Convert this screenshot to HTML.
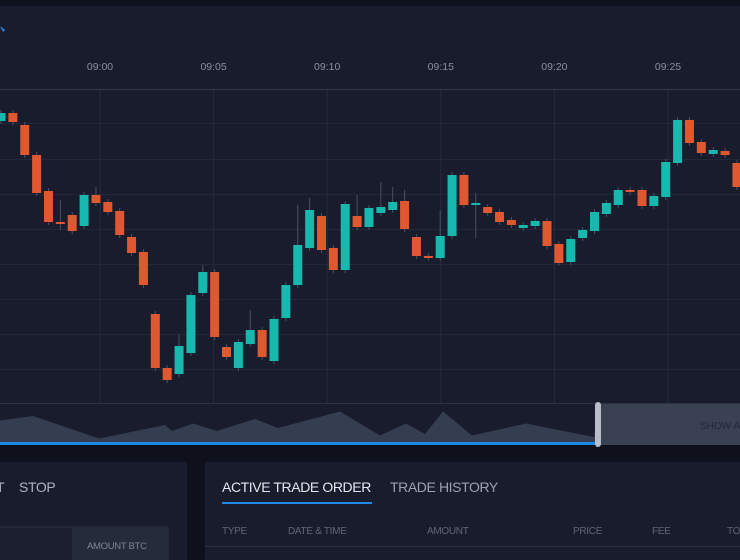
<!DOCTYPE html>
<html><head><meta charset="utf-8"><style>
html,body{margin:0;padding:0;background:#0e111b;width:740px;height:560px;overflow:hidden;font-family:"Liberation Sans",sans-serif;}
svg{display:block}
</style></head><body>
<svg id="c" width="740" height="560">
<rect x="0" y="0" width="740" height="560" fill="#0e111b"/>
<rect x="0" y="6" width="740" height="439" fill="#181c2c"/>
<path d="M0 26 L5 30 L3 32 Z" fill="#1e88e5"/>
<line x1="0" y1="89.5" x2="740" y2="89.5" stroke="#343a4c"/>
<line x1="0" y1="403.5" x2="740" y2="403.5" stroke="#2c3244"/>
<g id="grid"></g>
<g id="xlabels"></g>
<g id="candles"></g>
<g id="nav"></g>
<rect x="600" y="404" width="140" height="41" fill="#394153"/>
<text x="700" y="429" font-size="10" fill="#222838">SHOW ALL</text>
<rect x="595" y="402" width="6" height="45" rx="3" fill="#b9bdc8"/>
<rect x="0" y="462" width="187" height="98" fill="#181c2c"/>
<text x="-4" y="492" font-size="14" fill="#aeb3c0" letter-spacing="-0.4">T</text>
<text x="19" y="492" font-size="14" fill="#aeb3c0" letter-spacing="-0.4">STOP</text>
<rect x="-1" y="527" width="169" height="40" fill="#1b1f2f" stroke="#2c3244"/>
<rect x="72" y="528" width="96" height="32" fill="#262b3b"/>
<text x="87" y="549" font-size="9.5" fill="#7d8494" letter-spacing="-0.3">AMOUNT BTC</text>
<rect x="205" y="462" width="535" height="98" fill="#181c2c"/>
<text x="222" y="492" font-size="14" fill="#e3e6ee" letter-spacing="-0.4">ACTIVE TRADE ORDER</text>
<rect x="222" y="502" width="150" height="2" fill="#1e88e5"/>
<text x="390" y="492" font-size="14" fill="#9ba1b0" letter-spacing="-0.4">TRADE HISTORY</text>
<g font-size="10" fill="#5f6678" letter-spacing="-0.3">
<text x="222" y="534">TYPE</text>
<text x="288" y="534">DATE &amp; TIME</text>
<text x="427" y="534">AMOUNT</text>
<text x="573" y="534">PRICE</text>
<text x="652" y="534">FEE</text>
<text x="727" y="534">TOTAL</text>
</g>
<line x1="205" y1="546.5" x2="740" y2="546.5" stroke="#2a2f41"/>
</svg>
<script>
const timeLabels=["09:00","09:05","09:10","09:15","09:20","09:25"];
const opens=[7379,7387,7375,7345,7309,7278,7285,7274,7305,7298,7289,7263,7248,7186,7132,7126,7147,7207,7228,7153,7132,7156,7170,7139,7182,7215,7252,7284,7252,7230,7284,7273,7287,7290,7299,7263,7244,7242,7264,7325,7295,7293,7288,7280,7272,7274,7279,7256,7238,7262,7269,7286,7295,7310,7310,7294,7303,7337,7380,7358,7346,7349,7337];
const closes=[7387,7378,7345,7307,7278,7276,7269,7305,7297,7288,7265,7247,7215,7132,7120,7154,7205,7228,7163,7143,7158,7170,7143,7181,7215,7255,7290,7250,7230,7296,7273,7292,7293,7298,7271,7244,7242,7264,7325,7295,7297,7287,7278,7275,7275,7279,7254,7237,7261,7270,7288,7297,7310,7308,7294,7304,7338,7380,7357,7347,7350,7345,7313];
const highs=[7390,7390,7378,7348,7312,7300,7288,7308,7313,7301,7292,7266,7251,7189,7135,7165,7208,7235,7231,7156,7161,7190,7173,7184,7218,7295,7302,7287,7255,7299,7305,7295,7318,7313,7310,7266,7247,7290,7328,7328,7307,7296,7291,7283,7278,7282,7282,7259,7264,7273,7291,7300,7313,7313,7313,7307,7341,7383,7383,7361,7353,7352,7340];
const lows=[7376,7375,7342,7304,7275,7270,7266,7271,7294,7285,7262,7244,7212,7129,7117,7123,7144,7204,7160,7140,7129,7153,7140,7136,7179,7212,7249,7247,7227,7227,7270,7270,7284,7287,7268,7241,7239,7239,7261,7292,7262,7284,7275,7272,7269,7271,7251,7234,7235,7259,7266,7283,7292,7305,7291,7291,7300,7334,7354,7344,7343,7342,7310];
const volume=[77,80,65,74,70,75,70,78,72,83,67,75,68,83,67,75,66,76,82,67];
const volumeT=[0,33,99,165,172,193,217,255,278,340,380,406,425,443,472,526,594,596,598,600];

const NS="http://www.w3.org/2000/svg";
const x0=1, step=11.87, plotTop=90, plotBottom=403;
const xScale=i=>x0+i*step;
const yScale=v=>500-(v-7000);
const tickX=i=>100+i*113.6;
function mk(tag,attrs,parent){const e=document.createElementNS(NS,tag);for(const k in attrs)e.setAttribute(k,attrs[k]);parent.appendChild(e);return e;}
const grid=document.getElementById('grid');
[123,159,194,229,264,299,334,369].forEach(y=>{
 const l=mk('line',{x1:0,x2:740,y1:y+0.5,y2:y+0.5,stroke:'#22273a'},grid);
 
 
});
const xl=document.getElementById('xlabels');
timeLabels.forEach((t,i)=>{
 const x=tickX(i);
 const l=mk('line',{x1:x,x2:x,y1:plotTop,y2:plotBottom,stroke:'#262b3d'},grid);
 
 
 const tx=mk('text',{x:x,y:70,'text-anchor':'middle','font-size':'10.5',fill:'#8a90a0'},xl);
 tx.textContent=t;
 
 
});
const cg=document.getElementById('candles');
opens.forEach((o,i)=>{
 const c=closes[i],up=c>=o,col=up?'#17b8ae':'#e0582f';
 const x=xScale(i);
 const g=mk('g',{},cg);
 
 
 const w=mk('line',{x1:x,x2:x,y1:yScale(highs[i]),y2:yScale(lows[i]),stroke:'#4a5063','stroke-width':1},g);
 
 
 const top=yScale(Math.max(o,c)),h=Math.max(2,Math.abs(o-c));
 const b=mk('rect',{x:x-4.5,y:top,width:9,height:h,fill:col},g);
 
 
});
const nav=document.getElementById('nav');
const navBase=443, vy=v=>navBase-(v-62)*1.5;
let d='M0 '+navBase;
volume.forEach((v,i)=>{d+=' L'+volumeT[i]+' '+vy(v);});
d+=' L598 '+navBase+' Z';
const area=mk('path',{d:d,fill:'#353d50'},nav);


const bl=mk('rect',{x:0,y:442,width:598,height:3,fill:'#1e88e5'},nav);


</script>
</body></html>
